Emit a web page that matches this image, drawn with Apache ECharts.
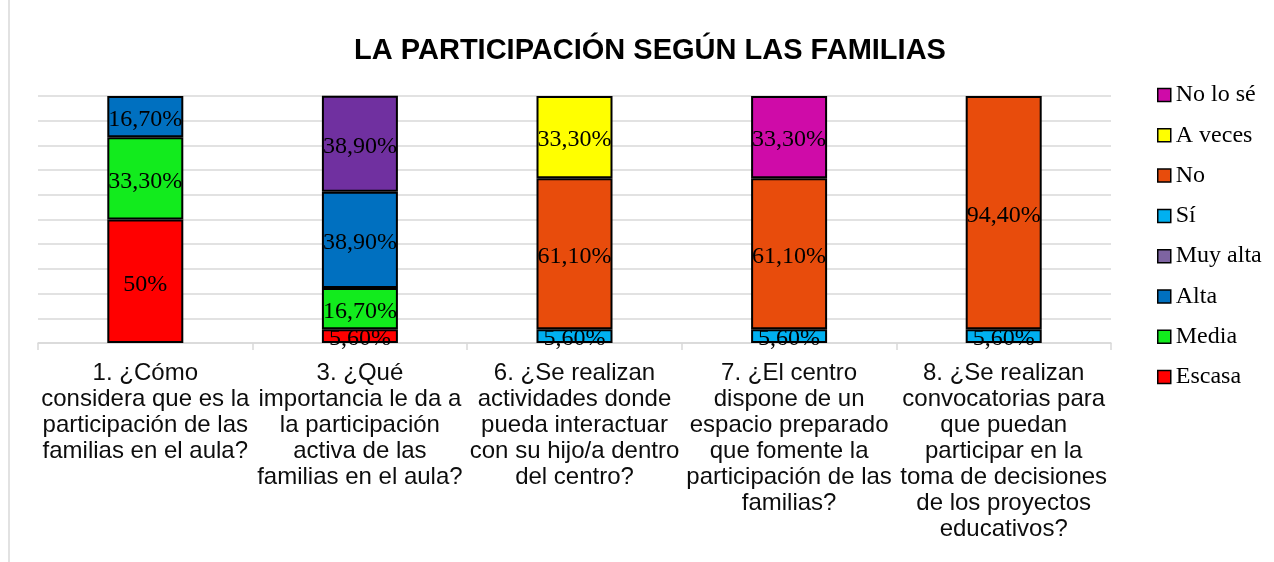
<!DOCTYPE html>
<html>
<head>
<meta charset="utf-8">
<title>La participación según las familias</title>
<script src="https://cdn.jsdelivr.net/npm/echarts@6/dist/echarts.min.js"></script>
<style>
  html, body { margin:0; padding:0; background:#fff; }
  #chart { width:1274px; height:562px; }
</style>
</head>
<body>
<div id="chart"></div>
<script>
// preguntas (eje x)
var categorias = [
  '1. ¿Cómo\nconsidera que es la\nparticipación de las\nfamilias en el aula?',
  '3. ¿Qué\nimportancia le da a\nla participación\nactiva de las\nfamilias en el aula?',
  '6. ¿Se realizan\nactividades donde\npueda interactuar\ncon su hijo/a dentro\ndel centro?',
  '7. ¿El centro\ndispone de un\nespacio preparado\nque fomente la\nparticipación de las\nfamilias?',
  '8. ¿Se realizan\nconvocatorias para\nque puedan\nparticipar en la\ntoma de decisiones\nde los proyectos\neducativos?'
];

// porcentajes por respuesta
var escasa   = [50,   5.6,  '-',  '-',  '-'];
var media    = [33.3, 16.7, '-',  '-',  '-'];
var alta     = [16.7, 38.9, '-',  '-',  '-'];
var muyAlta  = ['-',  38.9, '-',  '-',  '-'];
var si       = ['-',  '-',  5.6,  5.6,  5.6];
var no       = ['-',  '-',  61.1, 61.1, 94.4];
var aVeces   = ['-',  '-',  33.3, '-',  '-'];
var noLoSe   = ['-',  '-',  '-',  33.3, '-'];

var chart = echarts.init(document.getElementById('chart'));

function etiqueta(p) {
  var v = p.value;
  if (Math.round(v) === v) return v + '%';
  return v.toFixed(2).replace('.', ',') + '%';
}

function serie(nombre, datos, color) {
  return {
    name: nombre,
    type: 'bar',
    stack: 'total',
    barWidth: 76,
    data: datos,
    itemStyle: { color: color, borderColor: '#000', borderWidth: 2 },
    label: {
      show: true,
      position: 'inside',
      offset: [0, 3],
      formatter: etiqueta,
      color: '#000',
      fontFamily: 'Liberation Serif',
      fontSize: 24
    }
  };
}

var option = {
  animation: false,
  title: {
    text: 'LA PARTICIPACIÓN SEGÚN LAS FAMILIAS',
    left: 645,
    textAlign: 'center',
    top: 31,
    textStyle: { fontFamily: 'Liberation Sans', fontSize: 29, fontWeight: 'bold', color: '#000' }
  },
  legend: {
    orient: 'vertical',
    left: 1152,
    top: 78,
    itemWidth: 13,
    itemHeight: 13,
    itemGap: 16.3,
    icon: 'rect',
    itemStyle: { borderColor: '#000', borderWidth: 1.5 },
    textStyle: { fontFamily: 'Liberation Serif', fontSize: 24, lineHeight: 24, color: '#000' },
    data: [
      'No lo sé', 'A veces', 'No', 'Sí',
      { name: 'Muy alta', itemStyle: { color: '#7E64A2' } },
      'Alta', 'Media', 'Escasa'
    ]
  },
  grid: { left: 38, right: 163, top: 96, bottom: 219 },
  xAxis: {
    type: 'category',
    data: categorias,
    axisLine: { lineStyle: { color: '#D9D9D9', width: 1.5 } },
    axisTick: { show: true, length: 7, lineStyle: { color: '#D9D9D9', width: 1.5 } },
    axisLabel: {
      interval: 0,
      margin: 17,
      fontFamily: 'Liberation Sans',
      fontSize: 24,
      lineHeight: 26,
      color: '#0D0D0D',
      align: 'center'
    }
  },
  yAxis: {
    type: 'value',
    min: 0,
    max: 100,
    interval: 10,
    axisLabel: { show: false },
    axisLine: { show: false },
    axisTick: { show: false },
    splitLine: { lineStyle: { color: '#D9D9D9', width: 1.5 } }
  },
  graphic: [{
    type: 'line',
    shape: { x1: 9, y1: 0, x2: 9, y2: 562 },
    style: { stroke: '#D9D9D9', lineWidth: 1.5 }
  }],
  series: [
    serie('Escasa', escasa, '#FF0000'),
    serie('Media', media, '#12EB1D'),
    serie('Alta', alta, '#0070C0'),
    serie('Muy alta', muyAlta, '#7030A0'),
    serie('Sí', si, '#00B0F0'),
    serie('No', no, '#E84C0C'),
    serie('A veces', aVeces, '#FFFF00'),
    serie('No lo sé', noLoSe, '#CF0BA8')
  ]
};

chart.setOption(option);
</script>
</body>
</html>
